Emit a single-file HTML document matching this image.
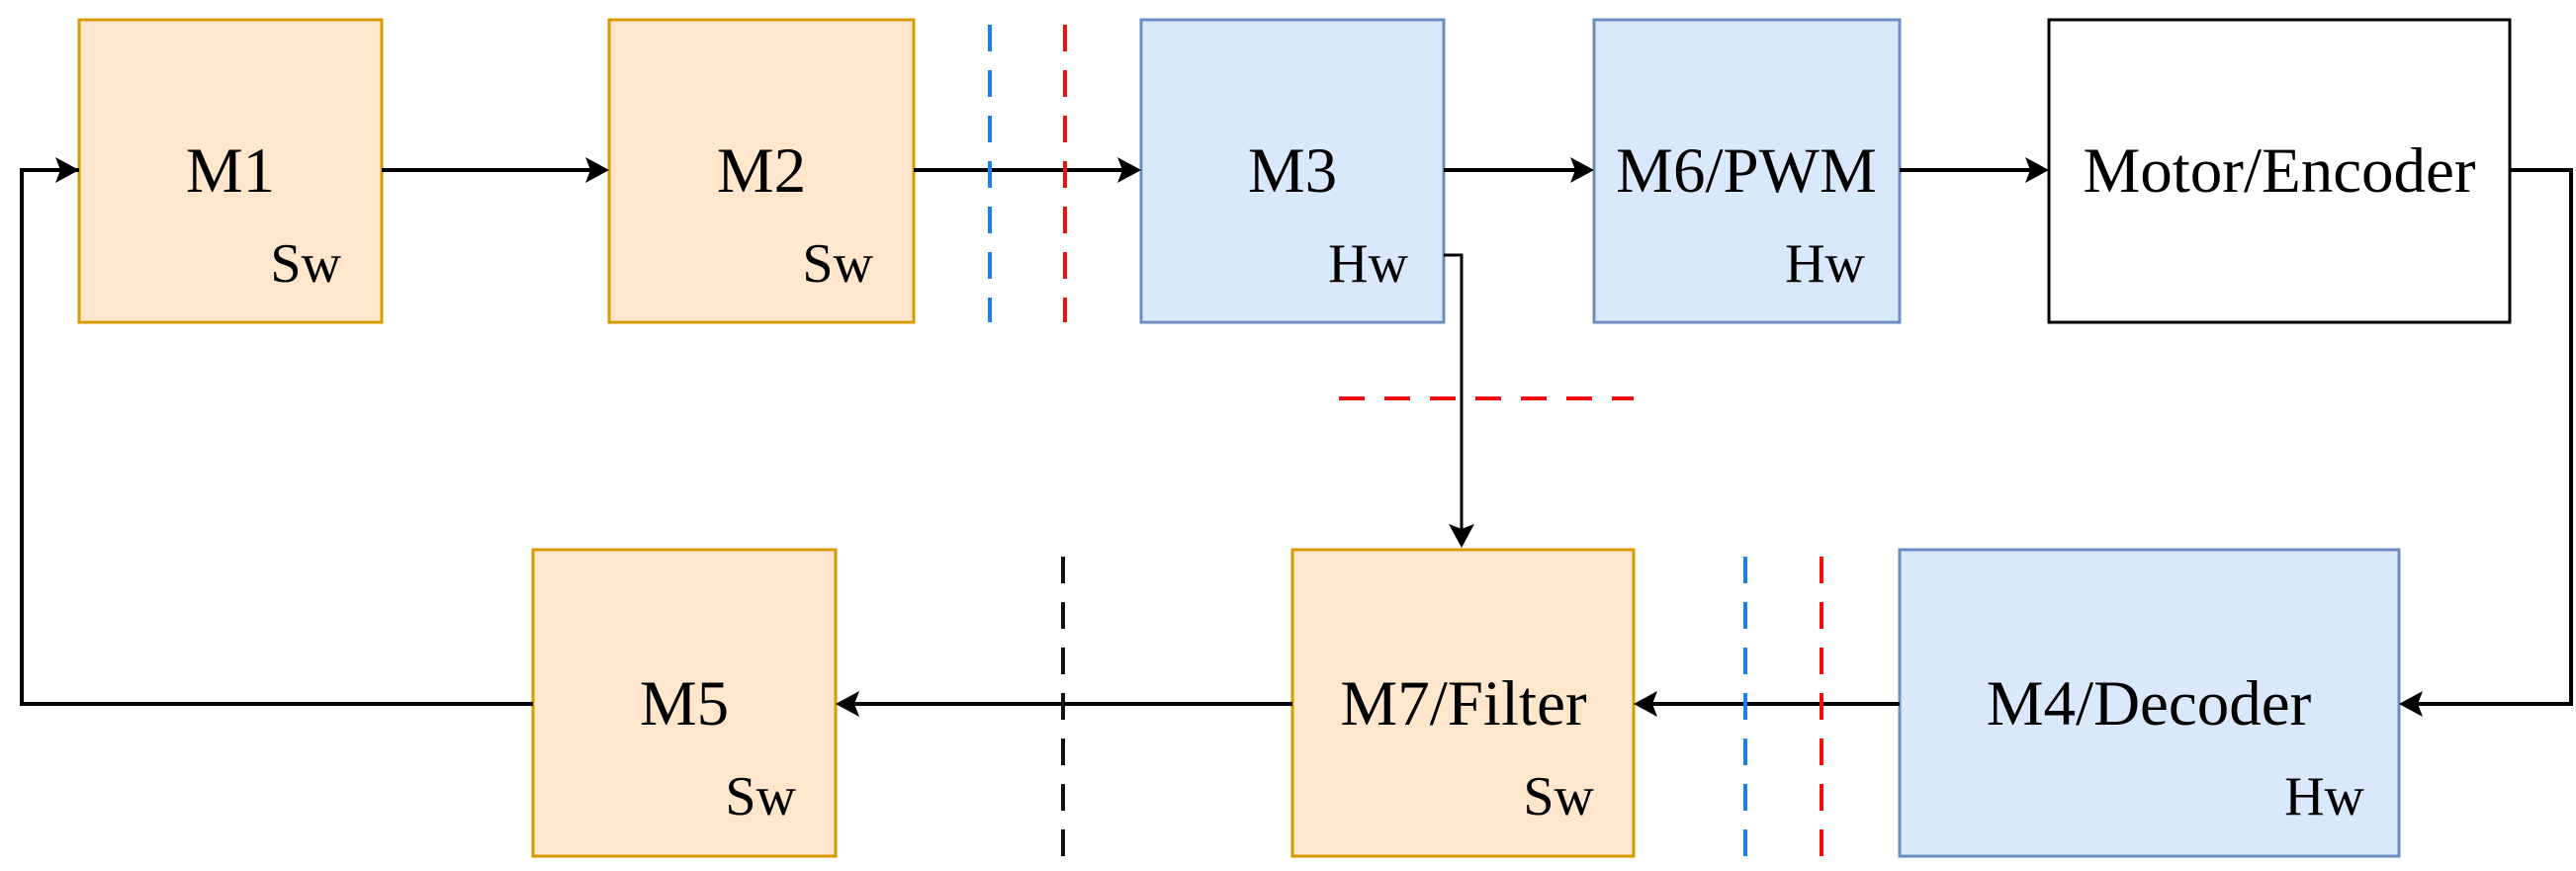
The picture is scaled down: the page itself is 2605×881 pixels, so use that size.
<!DOCTYPE html>
<html><head><meta charset="utf-8"><style>
html,body{margin:0;padding:0;background:#fff;}
svg{display:block;}
text{font-family:"Liberation Serif",serif;fill:#000;}
.t{font-size:65px;text-anchor:middle;}
.s{font-size:56px;text-anchor:end;}
</style></head><body>
<svg width="2605" height="881" viewBox="0 0 2605 881" xmlns="http://www.w3.org/2000/svg">
<defs>
<marker id="a" viewBox="0 0 10 10" refX="10" refY="5" markerWidth="7" markerHeight="8" markerUnits="userSpaceOnUse" orient="auto" overflow="visible">
</marker>
</defs>
<!-- boxes top -->
<g stroke-width="3">
<rect x="80" y="20" width="306" height="306" fill="#ffe6cc" stroke="#d79b00"/>
<rect x="616" y="20" width="308" height="306" fill="#ffe6cc" stroke="#d79b00"/>
<rect x="1154" y="20" width="306" height="306" fill="#dae8fc" stroke="#6c8ebf"/>
<rect x="1612" y="20" width="309" height="306" fill="#dae8fc" stroke="#6c8ebf"/>
<rect x="2072" y="20" width="466" height="306" fill="#fff" stroke="#000"/>
<rect x="539" y="556" width="306" height="310" fill="#ffe6cc" stroke="#d79b00"/>
<rect x="1307" y="556" width="345" height="310" fill="#ffe6cc" stroke="#d79b00"/>
<rect x="1921" y="556" width="505" height="310" fill="#dae8fc" stroke="#6c8ebf"/>
</g>
<!-- connectors -->
<g stroke="#000" stroke-width="4" fill="none">
<polyline points="80,172 22,172 22,712 539,712"/>
<line x1="386" y1="172" x2="600" y2="172"/>
<line x1="924" y1="172" x2="1138" y2="172"/>
<line x1="1460" y1="172" x2="1596" y2="172"/>
<line x1="1921" y1="172" x2="2056" y2="172"/>
<polyline points="2538,172 2600,172 2600,712 2442,712"/>
<line x1="1921" y1="712" x2="1668" y2="712"/>
<line x1="1307" y1="712" x2="861" y2="712"/>
<polyline points="1460,258 1478,258 1478,540" stroke-width="3"/>
</g>
<g fill="#000">
<polygon points="80,172 56,159 61,172 56,185"/>
<polygon points="616,172 592,159 597,172 592,185"/>
<polygon points="1154,172 1130,159 1135,172 1130,185"/>
<polygon points="1612,172 1588,159 1593,172 1588,185"/>
<polygon points="2072,172 2048,159 2053,172 2048,185"/>
<polygon points="2426,712 2450,699 2445,712 2450,725"/>
<polygon points="1652,712 1676,699 1671,712 1676,725"/>
<polygon points="845,712 869,699 864,712 869,725"/>
<polygon points="1478,554 1465,530 1478,535 1491,530"/>
</g>
<!-- dashed -->
<g stroke-width="4" fill="none" stroke-dasharray="27 19">
<line x1="1001" y1="25" x2="1001" y2="326" stroke="#1a7ff0"/>
<line x1="1077" y1="25" x2="1077" y2="326" stroke="#f01010"/>
<line x1="1354" y1="403" x2="1652" y2="403" stroke="#f01010" stroke-dasharray="26 20"/>
<line x1="1075" y1="563" x2="1075" y2="870" stroke="#111"/>
<line x1="1765" y1="563" x2="1765" y2="870" stroke="#1a7ff0"/>
<line x1="1842" y1="563" x2="1842" y2="870" stroke="#f01010"/>
</g>
<!-- text -->
<text class="t" x="233" y="194">M1</text>
<text class="s" x="345" y="285">Sw</text>
<text class="t" x="770" y="194">M2</text>
<text class="s" x="883" y="285">Sw</text>
<text class="t" x="1307" y="194">M3</text>
<text class="s" x="1424" y="285">Hw</text>
<text class="t" x="1766" y="194">M6/PWM</text>
<text class="s" x="1886" y="285">Hw</text>
<text class="t" x="2305" y="194">Motor/Encoder</text>
<text class="t" x="692" y="733">M5</text>
<text class="s" x="805" y="824">Sw</text>
<text class="t" x="1480" y="733">M7/Filter</text>
<text class="s" x="1612" y="824">Sw</text>
<text class="t" x="2173" y="733">M4/Decoder</text>
<text class="s" x="2391" y="824">Hw</text>
</svg>
</body></html>
